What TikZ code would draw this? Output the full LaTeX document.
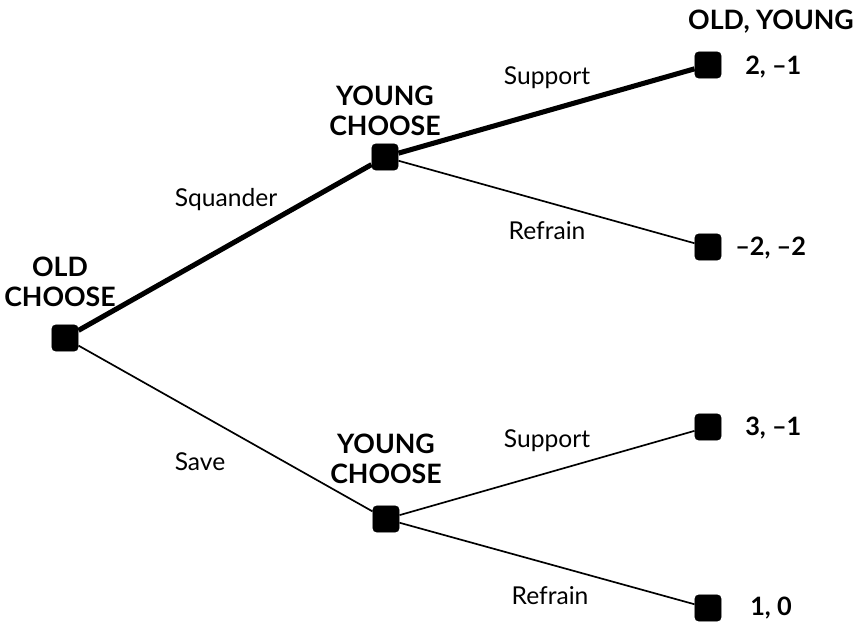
\documentclass[tikz,border=0pt]{standalone}
\usepackage{fontspec}
\setmainfont{Lato}
\begin{document}
\begin{tikzpicture}[x=0.025cm, y=-0.025cm,
    % Estilos
    choice/.style={
        fill=black, draw=black, rounded corners=3pt,
        minimum size=0.66cm, inner sep=0pt
    },
    who/.style={
        font=\fontsize{19}{21}\selectfont\bfseries, align=center
    },
    move/.style={
        font=\fontsize{17.5}{19}\selectfont
    },
    pay/.style={
        font=\fontsize{18}{20}\selectfont\bfseries, anchor=west, inner sep=0pt
    },
    eq/.style={line width=3.6pt},
    off/.style={line width=1.2pt}
]
\useasboundingbox (0,0) rectangle (856,622);

% =============================================
% NODOS DE DECISION
% =============================================
\node[choice] (old)    at (65, 338) {};
\node[choice] (yup)    at (385, 157) {};
\node[choice] (ydown)  at (386, 519) {};

% Resultados
\node[choice] (ss) at (708, 65) {};
\node[choice] (sr) at (708, 247) {};
\node[choice] (vs) at (708, 427) {};
\node[choice] (vr) at (708, 608) {};

% =============================================
% RAMAS
% =============================================
\draw[eq]  (old) -- (yup);
\draw[off] (old) -- (ydown);
\draw[eq]  (yup) -- (ss);
\draw[off] (yup) -- (sr);
\draw[off] (ydown) -- (vs);
\draw[off] (ydown) -- (vr);

% =============================================
% ETIQUETAS
% =============================================
\node[who] (lold)   at (60, 282) {OLD\\CHOOSE};
\node[who] (lyup)   at (385, 111) {YOUNG\\CHOOSE};
\node[who] (lydown) at (386, 459) {YOUNG\\CHOOSE};
\node[who] (head)   at (771, 22) {OLD, YOUNG};

\node[move] (msq) at (226, 200) {Squander};
\node[move] (msv) at (200, 462) {Save};
\node[move] (mus) at (547, 78)  {Support};
\node[move] (mur) at (547, 231) {Refrain};
\node[move] (mds) at (547, 441) {Support};
\node[move] (mdr) at (550, 596) {Refrain};

% Pagos
\node[pay] (pss) at (745, 67)  {2, –1};
\node[pay] (psr) at (735, 248) {–2, –2};
\node[pay] (pvs) at (745, 428) {3, –1};
\node[pay] (pvr) at (750, 608) {1, 0};

\end{tikzpicture}
\end{document}
